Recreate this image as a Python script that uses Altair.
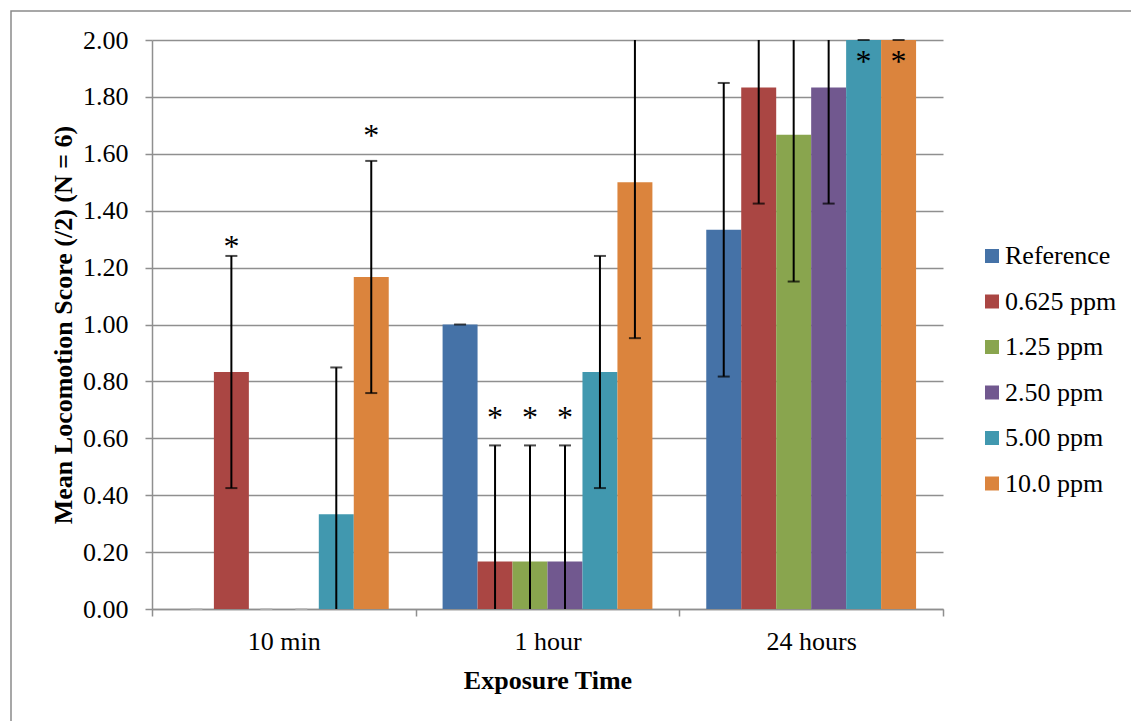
import altair as alt
import pandas as pd

# Exposure times and treatment series
groups = ["10 min", "1 hour", "24 hours"]
series = ["Reference", "0.625 ppm", "1.25 ppm", "2.50 ppm", "5.00 ppm", "10.0 ppm"]
colors = ["#4572A7", "#AA4643", "#89A54E", "#71588F", "#4198AF", "#DB843D"]

# Mean locomotion score per group (rows) and series (columns)
means_10min = [0.0, 0.833, 0.0, 0.0, 0.333, 1.167]
means_1hour = [1.0, 0.167, 0.167, 0.167, 0.833, 1.5]
means_24hours = [1.333, 1.833, 1.667, 1.833, 2.0, 2.0]

# Error bar half-widths
err_10min = [0.0, 0.408, 0.0, 0.0, 0.516, 0.408]
err_1hour = [0.0, 0.408, 0.408, 0.408, 0.408, 0.548]
err_24hours = [0.516, 0.408, 0.516, 0.408, 0.0, 0.0]

# Significance markers: (group, series, score level of the star)
star_groups = ["10 min", "10 min", "1 hour", "1 hour", "1 hour", "24 hours", "24 hours"]
star_series = ["0.625 ppm", "10.0 ppm", "0.625 ppm", "1.25 ppm", "2.50 ppm", "5.00 ppm", "10.0 ppm"]
star_levels = [1.29, 1.68, 0.69, 0.69, 0.69, 1.94, 1.94]

y_min, y_max = 0.0, 2.0

rows = []
for g, ms, es in zip(groups, [means_10min, means_1hour, means_24hours],
                     [err_10min, err_1hour, err_24hours]):
    for s, m, e in zip(series, ms, es):
        rows.append({"group": g, "series": s, "value": m, "err": e})
df = pd.DataFrame(rows)
df["lo_raw"] = df["value"] - df["err"]
df["hi_raw"] = df["value"] + df["err"]
df["lo"] = df["lo_raw"].clip(y_min, y_max)
df["hi"] = df["hi_raw"].clip(y_min, y_max)

# Caps are only drawn where the whisker end lies inside the axis range
caps = []
for _, r in df.iterrows():
    for end in ("lo_raw", "hi_raw"):
        v = r[end]
        if y_min <= v <= y_max:
            caps.append({"group": r["group"], "series": r["series"], "cap": v, "value": r["value"]})
caps_df = pd.DataFrame(caps).drop_duplicates()

stars_df = pd.DataFrame({"group": star_groups, "series": star_series, "level": star_levels})

FONT = "Liberation Serif"
GRID = "#8f8f8f"

x_enc = alt.X("group:N", sort=groups,
              scale=alt.Scale(domain=groups, paddingInner=0, paddingOuter=0),
              axis=alt.Axis(title="Exposure Time", labelAngle=0, tickBand="extent",
                            tickSize=7, tickColor=GRID, domainColor=GRID,
                            tickWidth=1.5, domainWidth=1.5,
                            labelPadding=12, labelFontSize=26, labelFont=FONT,
                            labelColor="black",
                            titleFont=FONT, titleFontSize=26, titleFontWeight="bold",
                            titleColor="black", titleY=79, titleBaseline="alphabetic"))
xo_enc = alt.XOffset("series:N", sort=series,
                     scale=alt.Scale(domain=series, paddingInner=0, paddingOuter=0.77))
y_scale = alt.Scale(domain=[y_min, y_max], nice=False)

bars = alt.Chart(df).mark_bar().encode(
    x=x_enc,
    xOffset=xo_enc,
    y=alt.Y("value:Q", scale=y_scale,
            axis=alt.Axis(title="Mean Locomotion Score (/2) (N = 6)",
                          values=[round(i * 0.2, 2) for i in range(11)], format=".2f",
                          tickSize=7, tickColor=GRID, tickWidth=1.5,
                          domainColor=GRID, domainWidth=1.5,
                          grid=True, gridColor=GRID, gridWidth=1.5,
                          labelPadding=17, labelFontSize=26, labelFont=FONT,
                          labelColor="black",
                          titleFont=FONT, titleFontSize=26, titleFontWeight="bold",
                          titleColor="black", titleX=-81, titleBaseline="alphabetic")),
    color=alt.Color("series:N", sort=series,
                    scale=alt.Scale(domain=series, range=colors),
                    legend=alt.Legend(title=None, orient="none", legendX=827, legendY=203,
                                      symbolType="square", symbolSize=196,
                                      symbolStrokeWidth=0, symbolOpacity=1,
                                      labelFont=FONT, labelFontSize=26, labelColor="black",
                                      labelOffset=0, rowPadding=19.5, padding=0)),
)

whiskers = alt.Chart(df[df["err"] > 0]).mark_rule(color="black", strokeWidth=2).encode(
    x=alt.X("group:N", sort=groups),
    xOffset=alt.XOffset("series:N", sort=series),
    y=alt.Y("lo:Q", scale=y_scale),
    y2="hi:Q",
)

cap_ticks = alt.Chart(caps_df).mark_tick(orient="horizontal", size=12, thickness=2).encode(
    x=alt.X("group:N", sort=groups),
    xOffset=alt.XOffset("series:N", sort=series),
    y=alt.Y("cap:Q", scale=y_scale),
    color=alt.condition(alt.datum.value == 0, alt.value("#b8b8b8"), alt.value("black")),
)

stars = alt.Chart(stars_df).mark_text(
    text="*", font=FONT, fontSize=32, baseline="alphabetic", dy=15, color="black"
).encode(
    x=alt.X("group:N", sort=groups),
    xOffset=alt.XOffset("series:N", sort=series),
    y=alt.Y("level:Q", scale=y_scale),
)

# Chart-area border
frame = alt.Chart(pd.DataFrame({"k": [0]})).mark_rect(
    fill=None, stroke="#8a8a8a", strokeWidth=1.5
).encode(
    x=alt.value(-141), y=alt.value(-29), x2=alt.value(1300), y2=alt.value(900)
)

chart = alt.layer(bars, whiskers, cap_ticks, stars, frame).properties(
    width=791, height=569,
    autosize="none",
    padding={"left": 152, "top": 40, "right": 188, "bottom": 112},
    background="white",
).configure_view(stroke=None)

chart.save("out.html", embed_options={"renderer": "svg", "actions": False})
